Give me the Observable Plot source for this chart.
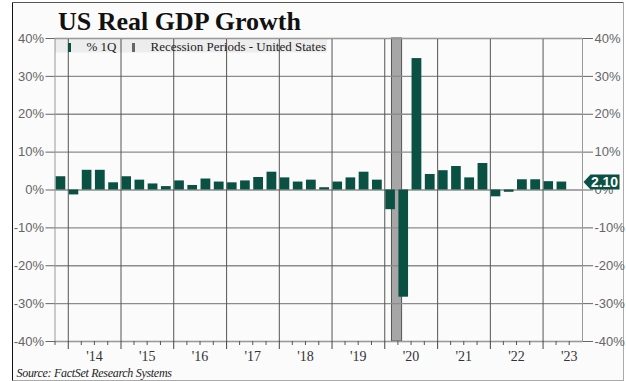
<!DOCTYPE html>
<html>
<head>
<meta charset="utf-8">
<script src="https://cdn.jsdelivr.net/npm/d3@7"></script>
<script src="https://cdn.jsdelivr.net/npm/@observablehq/plot@0.6"></script>
<style>
  html, body { margin: 0; padding: 0; background: #ffffff; }
  #wrap { position: relative; width: 626px; height: 381px; overflow: hidden; }
  #wrap > * { position: absolute; left: 0; top: 0; }
</style>
</head>
<body>
<div id="wrap">
  <svg id="bg" width="626" height="381"></svg>
  <div id="chart"></div>
  <svg id="fg" width="626" height="381"></svg>
</div>
<script>
// ---- data ----
const titleText = "US Real GDP Growth";
const sourceText = "Source: FactSet Research Systems";
const seriesName = "% 1Q";
const recessionName = "Recession Periods - United States";

const quarters = [
  "2013-Q4",
  "2014-Q1","2014-Q2","2014-Q3","2014-Q4",
  "2015-Q1","2015-Q2","2015-Q3","2015-Q4",
  "2016-Q1","2016-Q2","2016-Q3","2016-Q4",
  "2017-Q1","2017-Q2","2017-Q3","2017-Q4",
  "2018-Q1","2018-Q2","2018-Q3","2018-Q4",
  "2019-Q1","2019-Q2","2019-Q3","2019-Q4",
  "2020-Q1","2020-Q2","2020-Q3","2020-Q4",
  "2021-Q1","2021-Q2","2021-Q3","2021-Q4",
  "2022-Q1","2022-Q2","2022-Q3","2022-Q4",
  "2023-Q1","2023-Q2"
];
const growth = [
  3.5,
  -1.3, 5.2, 5.2, 1.9,
  3.5, 2.6, 1.6, 0.9,
  2.4, 1.2, 2.9, 2.1,
  1.9, 2.4, 3.3, 4.7,
  3.2, 2.1, 2.6, 0.6,
  2.1, 3.2, 4.7, 2.6,
  -5.2, -28.3, 34.7, 4.1,
  5.1, 6.2, 3.2, 7.0,
  -1.8, -0.6, 2.7, 2.7,
  2.2, 2.1
];
const lastLabel = [2.10];

const recessionStart = "2020-02-20";
const recessionEnd = "2020-04-30";

const yTicks = [-40, -30, -20, -10, 0, 10, 20, 30, 40];
const years = [2014, 2015, 2016, 2017, 2018, 2019, 2020, 2021, 2022, 2023];
const yearLabels = ["'14","'15","'16","'17","'18","'19","'20","'21","'22","'23"];
const xStart = "2013-10-01";
const xEnd = "2023-10-01";

// ---- derived tables ----
const qStart = q => { const [y, n] = q.split("-Q"); return new Date(Date.UTC(+y, (n - 1) * 3, 1)); };
const qEnd = q => { const [y, n] = q.split("-Q"); return new Date(Date.UTC(+y, n * 3, 1)); };
const bars = quarters.map((q, i) => ({q, start: qStart(q), end: qEnd(q), value: growth[i]}));
const yearStarts = years.map(y => new Date(Date.UTC(y, 0, 1)));
const yearMids = years.map(y => new Date(Date.UTC(y, 6, 1)));
const labelOf = new Map(yearMids.map((d, i) => [+d, yearLabels[i]]));
const quarterTicks = bars.map(b => b.start).concat([bars[bars.length - 1].end])
  .filter(d => d.getUTCMonth() !== 0);
const xEndDate = new Date(xEnd);

const green = "#0b5143";

const flagSymbol = {
  draw(ctx) {
    ctx.moveTo(0, 0);
    ctx.lineTo(7, -7.5);
    ctx.lineTo(36, -7.5);
    ctx.lineTo(36, 7.5);
    ctx.lineTo(7, 7.5);
    ctx.closePath();
  }
};

const chart = Plot.plot({
  width: 626,
  height: 381,
  marginLeft: 54.5,
  marginRight: 44,
  marginTop: 38,
  marginBottom: 40,
  style: {background: "transparent", overflow: "visible"},
  x: {type: "utc", domain: [new Date(xStart), xEndDate]},
  y: {domain: [-40, 40]},
  marks: [
    Plot.rect([{a: new Date(recessionStart), b: new Date(recessionEnd)}], {
      x1: "a", x2: "b", y1: () => -40, y2: () => 40,
      fill: "#a6a6a6", stroke: "#555", strokeWidth: 1
    }),
    Plot.ruleY(yTicks, {stroke: "#8c8c8c", strokeWidth: 1.3}),
    Plot.ruleX(yearStarts, {stroke: "#555", strokeWidth: 1}),
    Plot.rect(bars, {
      x1: "start", x2: "end", y1: () => 0, y2: "value",
      fill: green, insetLeft: 1, insetRight: 2.5
    }),
    Plot.frame({stroke: "#999"}),
    Plot.axisY(yTicks, {
      anchor: "left", label: null, tickSize: 9, tickPadding: 2,
      tickFormat: d => d + "%", fontSize: 13, fontFamily: "Liberation Sans, Arial, sans-serif",
      color: "#666"
    }),
    Plot.axisY(yTicks, {
      anchor: "right", label: null, tickSize: 10, tickPadding: 2,
      tickFormat: d => d + "%", fontSize: 13, fontFamily: "Liberation Sans, Arial, sans-serif",
      color: "#666"
    }),
    Plot.axisX(yearStarts, {
      anchor: "bottom", label: null, tickSize: 8, tickFormat: () => "", color: "#444"
    }),
    Plot.axisX(quarterTicks, {
      anchor: "bottom", label: null, tickSize: 4, tickFormat: () => "", color: "#555"
    }),
    Plot.axisX(yearMids, {
      anchor: "bottom", label: null, tickSize: 0, tickPadding: 10,
      tickFormat: d => labelOf.get(+d), fontSize: 14,
      fontFamily: "Liberation Serif, Times New Roman, serif", color: "#333"
    }),
    Plot.dot(lastLabel, {
      x: () => xEndDate, y: d => d, dx: 1, r: 5,
      symbol: flagSymbol, fill: green, stroke: "none"
    }),
    Plot.text(lastLabel, {
      x: () => xEndDate, y: d => d, dx: 22, text: d => d.toFixed(2),
      fill: "white", fontWeight: "bold", fontSize: 14,
      fontFamily: "Liberation Sans, Arial, sans-serif"
    })
  ]
});
document.getElementById("chart").appendChild(chart);

// ---- frame (behind) ----
const bg = d3.select("#bg");
bg.append("rect").attr("x", 12.5).attr("y", 2.5).attr("width", 611).attr("height", 378)
  .attr("fill", "#fbfbfb").attr("stroke", "none");
bg.append("line").attr("x1", 12.5).attr("x2", 623.5).attr("y1", 2.5).attr("y2", 2.5).attr("stroke", "#555");
bg.append("line").attr("x1", 12.5).attr("x2", 12.5).attr("y1", 2.5).attr("y2", 381).attr("stroke", "#111");
bg.append("line").attr("x1", 623.5).attr("x2", 623.5).attr("y1", 2.5).attr("y2", 381).attr("stroke", "#aaa");
bg.append("line").attr("x1", 12.5).attr("x2", 623.5).attr("y1", 380.5).attr("y2", 380.5).attr("stroke", "#aaa");

// ---- title, legend, source (front) ----
const fg = d3.select("#fg");
fg.append("text").attr("x", 58).attr("y", 30)
  .attr("font-family", "Liberation Serif, Times New Roman, serif")
  .attr("font-weight", "bold").attr("font-size", 26).attr("fill", "#111")
  .text(titleText);

fg.append("rect").attr("x", 55).attr("y", 39.5).attr("width", 272).attr("height", 13)
  .attr("fill", "rgba(0,0,0,0.055)");
fg.append("rect").attr("x", 68).attr("y", 43).attr("width", 3).attr("height", 9).attr("fill", green);
fg.append("text").attr("x", 86.5).attr("y", 50.5)
  .attr("font-family", "Liberation Serif, Times New Roman, serif").attr("font-size", 13).attr("fill", "#222")
  .text(seriesName);
fg.append("rect").attr("x", 132).attr("y", 43).attr("width", 3).attr("height", 9).attr("fill", "#666");
fg.append("text").attr("x", 150.5).attr("y", 50.5)
  .attr("font-family", "Liberation Serif, Times New Roman, serif").attr("font-size", 13).attr("fill", "#222")
  .text(recessionName);

fg.append("text").attr("x", 16.5).attr("y", 377)
  .attr("font-family", "Liberation Serif, Times New Roman, serif").attr("font-style", "italic")
  .attr("font-size", 12).attr("fill", "#222").attr("letter-spacing", -0.3)
  .text(sourceText);
</script>
</body>
</html>
